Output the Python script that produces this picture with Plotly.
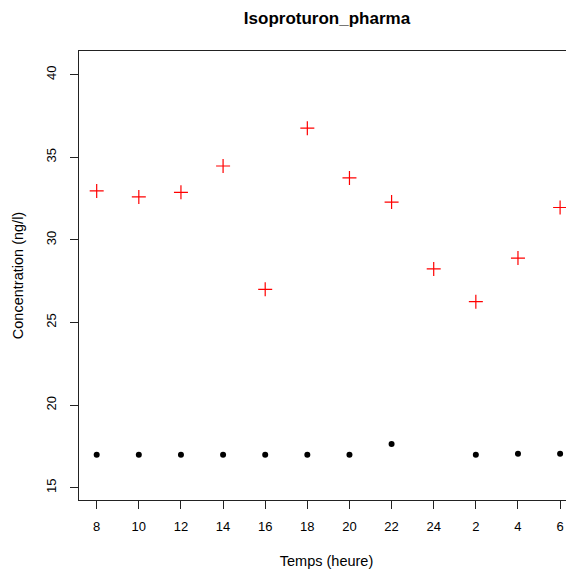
import plotly.graph_objects as go

hours = ["8", "10", "12", "14", "16", "18", "20", "22", "24", "2", "4", "6"]
pharma_red = [32.96, 32.6, 32.88, 34.47, 27.01, 36.76, 33.75, 32.29, 28.24, 26.26, 28.9, 31.96]
pharma_black = [17.0, 17.0, 17.0, 17.0, 17.0, 17.0, 17.0, 17.65, None, 17.0, 17.06, 17.06]
y_ticks = [15, 20, 25, 30, 35, 40]

font_family = "Liberation Sans, Arial, sans-serif"

fig = go.Figure()
fig.add_trace(go.Scatter(
    x=hours, y=pharma_red, mode="markers",
    marker=dict(symbol="cross-thin", size=10, line=dict(color="#ff0000", width=1.2), color="#ff0000"),
    showlegend=False,
))
fig.add_trace(go.Scatter(
    x=hours, y=pharma_black, mode="markers",
    marker=dict(symbol="circle", size=6, color="#000000"),
    showlegend=False,
))

# page body has an 8px margin, so the figure is sized/positioned to compensate
fig.update_layout(
    width=566, height=565,
    margin=dict(l=71, r=0, t=43, b=73),
    plot_bgcolor="white", paper_bgcolor="white",
    font=dict(family=font_family, size=13, color="#000000"),
    title=dict(text="<b>Isoproturon_pharma</b>", x=0.5636, xanchor="center", y=0.982, yanchor="middle",
               font=dict(size=17, family=font_family, color="#000000")),
)
fig.update_xaxes(
    type="category", categoryorder="array", categoryarray=hours,
    range=[-0.42, 11.33],
    showgrid=False, zeroline=False,
    showline=True, linecolor="#222222", linewidth=1, mirror=True,
    ticks="outside", ticklen=8, tickcolor="#222222", tickwidth=1,
    ticklabelstandoff=6,
    tickfont=dict(size=13, color="#000000"),
    title=dict(text="Temps (heure)", font=dict(size=14.5, color="#000000"), standoff=23),
)
fig.update_yaxes(
    range=[14.26, 41.43],
    tickmode="array", tickvals=y_ticks, ticktext=[str(v) for v in y_ticks],
    tickangle=-90,
    showgrid=False, zeroline=False,
    showline=True, linecolor="#222222", linewidth=1, mirror=False,
    ticks="outside", ticklen=8, tickcolor="#222222", tickwidth=1,
    ticklabelstandoff=9,
    tickfont=dict(size=13, color="#000000"),
    title=dict(text="Concentration (ng/l)", font=dict(size=14.5, color="#000000"), standoff=16),
)

fig.write_html("out.html")
